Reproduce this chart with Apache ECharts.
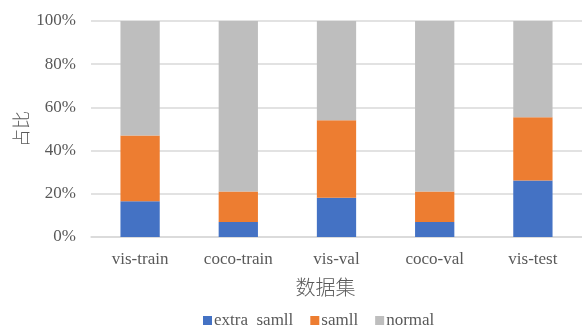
<!DOCTYPE html>
<html><head><meta charset="utf-8">
<script src="https://cdn.jsdelivr.net/npm/echarts@6/dist/echarts.min.js"></script>
<style>html,body{margin:0;padding:0;background:#fff}#c{width:582px;height:329px}</style>
</head><body><div id="c"></div>
<script>
const categories = ['vis-train','coco-train','vis-val','coco-val','vis-test'];
const extraSmall = [16.6, 6.9, 18.2, 6.9, 26.2];
const small = [30.4, 14.2, 35.8, 14.2, 29.2];
const normal = [53.0, 78.9, 46.0, 78.9, 44.6];
const yTicks = [0, 20, 40, 60, 80, 100];
const seriesNames = ['extra  samll', 'samll', 'normal'];
const colors = ['#4472C4', '#ED7D31', '#BEBEBE'];
const serif = '"Liberation Serif", "Times New Roman", serif';
const chart = echarts.init(document.getElementById('c'));
const mk = (name, data, color) => ({
  name, type: 'bar', stack: 'a', data, barWidth: '40%',
  itemStyle: { color }, emphasis: { disabled: true }
});
chart.setOption({
  animation: false,
  grid: { left: 91, right: -1, top: 21, bottom: 92, containLabel: false },
  legend: {
    top: 307, left: 198, itemWidth: 9, itemHeight: 9, itemGap: 17,
    icon: 'rect',
    textStyle: { fontFamily: serif, fontSize: 17, color: '#595959', padding: [0,0,0,-3] },
    data: seriesNames
  },
  xAxis: {
    type: 'category', data: categories,
    axisLine: { lineStyle: { color: '#D9D9D9', width: 1.5 } },
    axisTick: { show: false },
    axisLabel: { fontFamily: serif, fontSize: 17, color: '#595959', margin: 14 },
    name: '数据集', nameLocation: 'middle', nameGap: 40, nameMoveOverlap: false,
    nameTextStyle: { fontFamily: '"Noto Sans CJK SC", sans-serif', fontSize: 20, color: '#595959', fontWeight: 300, padding: [0, 22, 0, 0] }
  },
  yAxis: {
    type: 'value', min: 0, max: 100, interval: 20,
    axisLine: { show: false }, axisTick: { show: false },
    splitLine: { lineStyle: { color: '#D9D9D9', width: 1.5 } },
    axisLabel: { fontFamily: serif, fontSize: 17, color: '#595959', margin: 15,
      formatter: v => yTicks.includes(v) ? v + '%' : '' },
    name: '占比', nameLocation: 'middle', nameGap: 61, nameRotate: 90, nameMoveOverlap: false,
    nameTextStyle: { fontFamily: '"Noto Sans CJK SC", sans-serif', fontSize: 18, color: '#595959', fontWeight: 300 }
  },
  series: [
    mk(seriesNames[0], extraSmall, colors[0]),
    mk(seriesNames[1], small, colors[1]),
    mk(seriesNames[2], normal, colors[2])
  ]
});
</script></body></html>
